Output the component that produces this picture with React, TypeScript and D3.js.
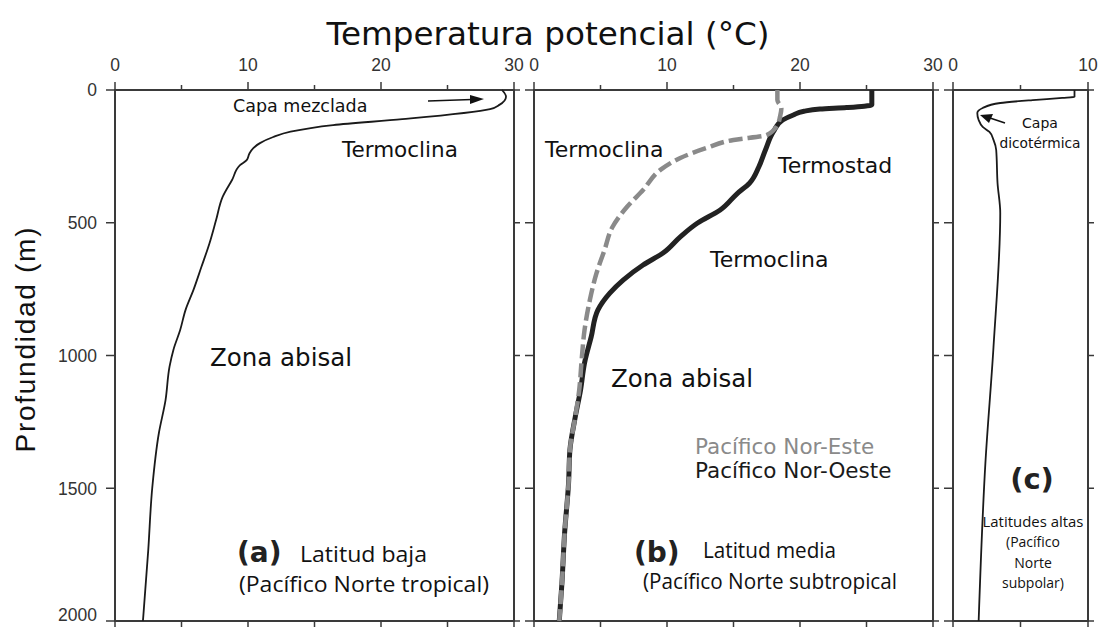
import React from "react";
import * as d3 from "d3";

// Potential temperature profiles (depth in m, temperature in °C)
const depthLow = [0, 25, 56, 72, 110, 132, 157, 177, 200, 219, 240, 264, 283, 339, 402, 490, 578, 666, 753, 829, 904, 977, 1042, 1168, 1292, 1499, 1733, 2000];
const tempLow = [29.1, 29.4, 28.9, 28.2, 21.6, 16.4, 13.2, 11.9, 10.9, 10.4, 10.1, 9.9, 9.4, 8.8, 8.1, 7.6, 7.1, 6.5, 5.9, 5.3, 4.9, 4.4, 4.1, 3.8, 3.3, 2.8, 2.5, 2.1];

const depthWest = [0, 56, 66, 72, 80, 94, 113, 157, 226, 290, 351, 389, 452, 501, 553, 614, 659, 716, 765, 829, 930, 1028, 1130, 1232, 1356, 1480, 1669, 1857, 2000];
const tempWest = [25.4, 25.4, 23.5, 21.5, 20.3, 19.5, 18.7, 18.0, 17.4, 16.9, 16.2, 15.3, 14.0, 12.3, 11.0, 9.7, 8.2, 6.7, 5.7, 4.8, 4.3, 3.8, 3.5, 3.1, 2.7, 2.6, 2.3, 2.1, 1.9];

const depthEast = [0, 38, 69, 100, 132, 170, 188, 218, 256, 301, 377, 440, 516, 603, 690, 791, 904, 1006, 1130, 1232, 1356, 1480, 1669, 1857, 2000];
const tempEast = [18.3, 18.3, 18.6, 18.5, 18.3, 17.5, 15.0, 13.0, 11.0, 9.5, 8.2, 7.0, 5.9, 5.3, 4.7, 4.2, 3.8, 3.6, 3.4, 3.1, 2.7, 2.6, 2.3, 2.1, 1.9];

const depthHigh = [0, 26, 30, 38, 49, 68, 87, 113, 139, 158, 188, 226, 351, 463, 968, 1405, 2000];
const tempHigh = [9.0, 9.0, 8.1, 5.9, 3.5, 2.2, 1.8, 1.9, 2.2, 2.7, 3.0, 3.2, 3.3, 3.5, 3.0, 2.4, 1.9];

const depthTicks = [0, 500, 1000, 1500, 2000];
const tempTicksWide = [0, 10, 20, 30];
const tempTicksNarrow = [0, 10];

const W = 1099;
const H = 628;
const FRAME = "#3a3a3a";

const y = d3.scaleLinear().domain([0, 2000]).range([90, 621]);
const xa = d3.scaleLinear().domain([0, 30]).range([115, 514]);
const xb = d3.scaleLinear().domain([0, 30]).range([534, 933]);
const xc = d3.scaleLinear().domain([0, 10]).range([953, 1088]);

function profile(x: d3.ScaleLinear<number, number>, temps: number[], depths: number[]) {
  const pts: [number, number][] = temps.map((t, i) => [t, depths[i]]);
  return d3
    .line<[number, number]>()
    .x((p) => x(p[0]))
    .y((p) => y(p[1]))
    .curve(d3.curveMonotoneY)(pts) as string;
}

function Panel({ x, labels, leftLabels }: { x: d3.ScaleLinear<number, number>; labels: number[]; leftLabels?: boolean }) {
  const [t0, t1] = x.domain();
  const x0 = x(t0);
  const x1 = x(t1);
  const y0 = y(0);
  const y1 = y(2000);
  const minor = d3.range(t0, t1 + 0.001, 5);
  return (
    <g>
      {/* frame */}
      <g stroke={FRAME} strokeWidth={2} fill="none">
        <line x1={x0} x2={x0} y1={y0} y2={y1} />
        <line x1={x1} x2={x1} y1={y0} y2={y1} />
        <line x1={x0 - 1} x2={x1 + 1} y1={y0} y2={y0} />
        <line x1={x0 - 1} x2={x1 + 1} y1={y1} y2={y1} />
      </g>
      {/* ticks */}
      <g stroke={FRAME} strokeWidth={1.5}>
        {minor.map((t) => (
          <line key={"tt" + t} x1={x(t)} x2={x(t)} y1={y0} y2={y0 - (t % 10 === 0 ? 8 : 5)} />
        ))}
        {minor.map((t) => (
          <line key={"tb" + t} x1={x(t)} x2={x(t)} y1={y1} y2={y1 + 6} />
        ))}
        {depthTicks.map((d) => (
          <line key={"yl" + d} x1={x0} x2={x0 - 9} y1={y(d)} y2={y(d)} />
        ))}
        {depthTicks.map((d) => (
          <line key={"yr" + d} x1={x1} x2={x1 + 6} y1={y(d)} y2={y(d)} />
        ))}
      </g>
      {labels.map((t) => (
        <text key={"lab" + t} x={x(t)} y={71} textAnchor="middle" fontFamily="Liberation Sans, Arial, sans-serif" fontSize={17.5} fill="#333">
          {t}
        </text>
      ))}
      {leftLabels &&
        depthTicks.map((d) => (
          <text key={"dl" + d} x={97} y={Math.min(y(d), 615)} dy="0.36em" textAnchor="end" fontFamily="Liberation Sans, Arial, sans-serif" fontSize={17.5} fill="#333">
            {d}
          </text>
        ))}
    </g>
  );
}

const sans = "DejaVu Sans, sans-serif";
const open = "Open Sans, sans-serif";

export default function App() {
  return (
    <svg width={W} height={H} style={{ position: "absolute", left: 0, top: 0, background: "#fff" }}>
      <rect width={W} height={H} fill="#fff" />
      <Panel x={xa} labels={tempTicksWide} leftLabels />
      <Panel x={xb} labels={tempTicksWide} />
      <Panel x={xc} labels={tempTicksNarrow} />

      {/* title and depth axis label */}
      <text x={548} y={45} textAnchor="middle" fontFamily={sans} fontSize={32.5} fill="#111" textLength={443} lengthAdjust="spacingAndGlyphs">
        Temperatura potencial (°C)
      </text>
      <text transform="translate(35,340) rotate(-90)" textAnchor="middle" fontFamily="Liberation Sans, Arial, sans-serif" fontSize={28} fill="#111" textLength={225} lengthAdjust="spacing">
        Profundidad (m)
      </text>

      {/* profiles */}
      <path d={profile(xa, tempLow, depthLow)} fill="none" stroke="#1a1a1a" strokeWidth={1.8} />
      <path d={profile(xb, tempWest, depthWest)} fill="none" stroke="#222" strokeWidth={5} strokeLinejoin="round" />
      <path d={profile(xb, tempEast, depthEast)} fill="none" stroke="#8a8a8a" strokeWidth={4.5} strokeDasharray="14 5" />
      <path d={profile(xc, tempHigh, depthHigh)} fill="none" stroke="#1a1a1a" strokeWidth={1.8} />

      {/* panel (a) annotations */}
      <text x={233} y={112} fontFamily={sans} fontSize={17.5} fill="#111">Capa mezclada</text>
      <line x1={428} y1={101} x2={472} y2={99.5} stroke="#111" strokeWidth={1.5} />
      <polygon points="484,99 470,95 470,104" fill="#111" />
      <text x={342} y={157} fontFamily={sans} fontSize={21.5} fill="#111">Termoclina</text>
      <text x={210} y={366} fontFamily={sans} fontSize={24.5} fill="#111">Zona abisal</text>
      <text x={237} y={562} fontFamily={sans} fontSize={28} fontWeight="bold" fill="#222">(a)</text>
      <text x={300} y={562} fontFamily={open} fontSize={21} fill="#111" textLength={127} lengthAdjust="spacingAndGlyphs">Latitud baja</text>
      <text x={239} y={592} fontFamily={open} fontSize={21} fill="#111" textLength={250} lengthAdjust="spacingAndGlyphs">(Pacífico Norte tropical)</text>

      {/* panel (b) annotations */}
      <text x={545} y={157} fontFamily={sans} fontSize={22} fill="#111">Termoclina</text>
      <text x={778} y={173} fontFamily={sans} fontSize={22} fill="#111">Termostad</text>
      <text x={710} y={267} fontFamily={sans} fontSize={22} fill="#111">Termoclina</text>
      <text x={611} y={387} fontFamily={sans} fontSize={24.5} fill="#111">Zona abisal</text>
      <text x={695} y={454} fontFamily={sans} fontSize={21.5} fill="#8a8a8a">Pacífico Nor-Este</text>
      <text x={695} y={478} fontFamily={sans} fontSize={21.5} fill="#1a1a1a">Pacífico Nor-Oeste</text>
      <text x={634} y={562} fontFamily={sans} fontSize={28} fontWeight="bold" fill="#222">(b)</text>
      <text x={703} y={558} fontFamily={open} fontSize={21} fill="#111" textLength={133} lengthAdjust="spacingAndGlyphs">Latitud media</text>
      <text x={643} y={589} fontFamily={open} fontSize={21} fill="#111" textLength={254} lengthAdjust="spacingAndGlyphs">(Pacífico Norte subtropical</text>

      {/* panel (c) annotations */}
      <text x={1040} y={128} textAnchor="middle" fontFamily={sans} fontSize={14} fill="#111">Capa</text>
      <text x={1040} y={148} textAnchor="middle" fontFamily={sans} fontSize={14} fill="#111" textLength={81} lengthAdjust="spacingAndGlyphs">dicotérmica</text>
      <line x1={1005} y1={123} x2={990} y2={118} stroke="#111" strokeWidth={1.5} />
      <polygon points="980,115 993,114 989,123" fill="#111" />
      <text x={1032} y={489} textAnchor="middle" fontFamily={sans} fontSize={29} fontWeight="bold" fill="#222">(c)</text>
      <text x={1033} y={527} textAnchor="middle" fontFamily={open} fontSize={14} fill="#111" textLength={101} lengthAdjust="spacingAndGlyphs">Latitudes altas</text>
      <text x={1033} y={547} textAnchor="middle" fontFamily={open} fontSize={14} fill="#111">(Pacífico</text>
      <text x={1033} y={568} textAnchor="middle" fontFamily={open} fontSize={14} fill="#111">Norte</text>
      <text x={1033} y={588} textAnchor="middle" fontFamily={open} fontSize={14} fill="#111">subpolar)</text>
    </svg>
  );
}
